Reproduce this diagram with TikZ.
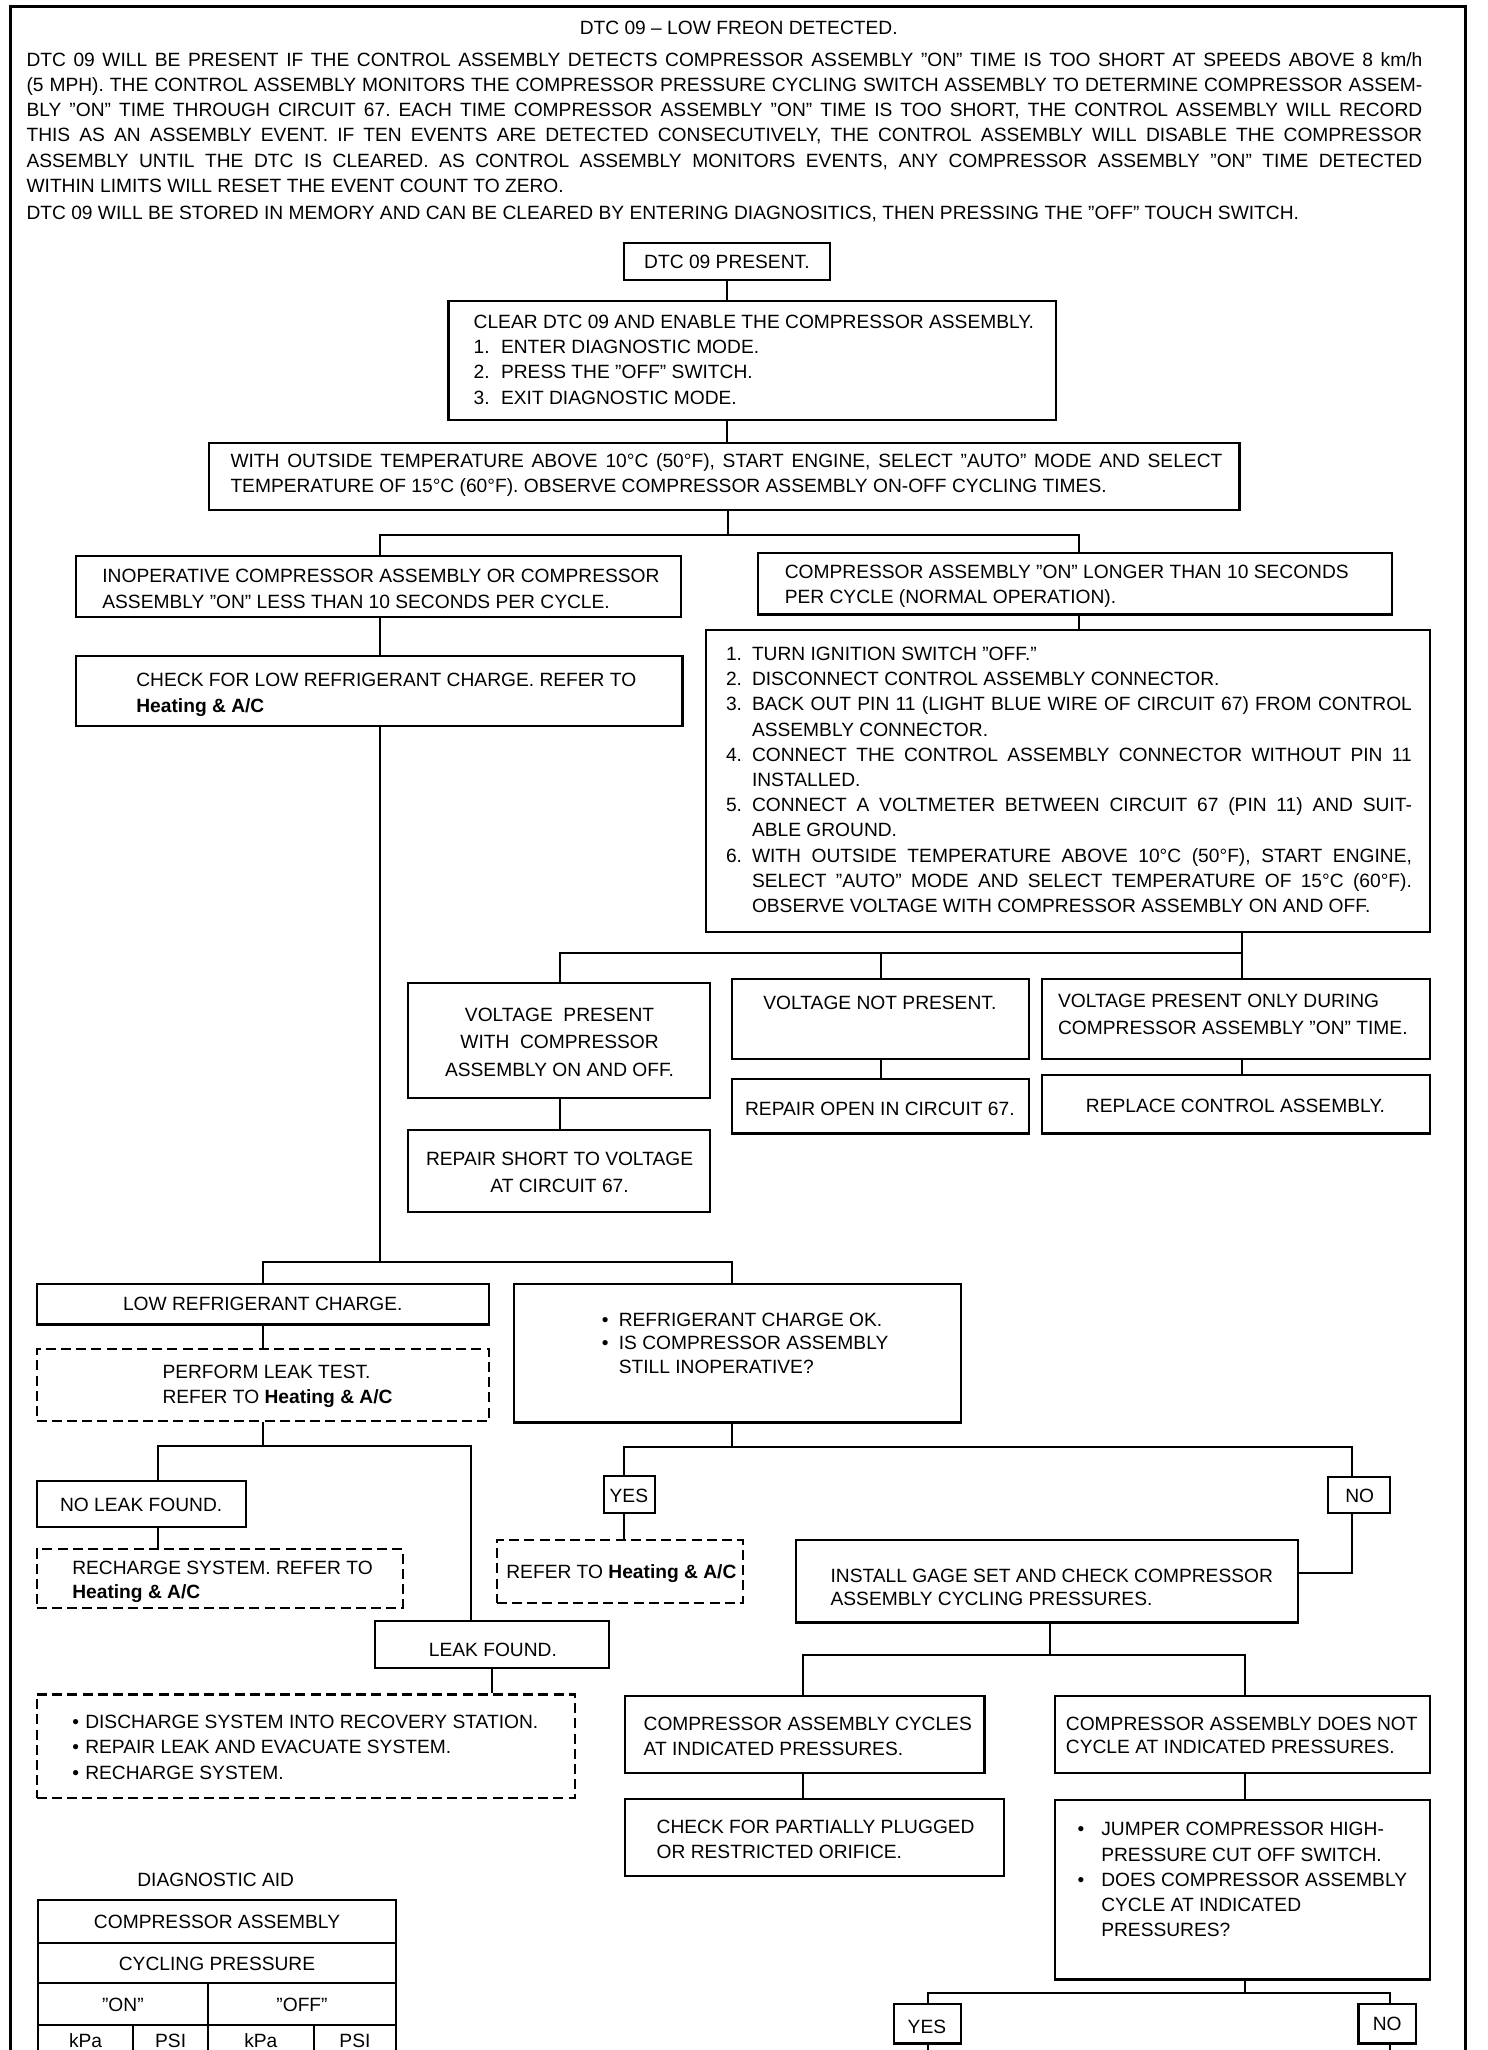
\documentclass[tikz,border=0pt]{standalone}
\usepackage{fontspec}
\setmainfont{Liberation Sans}
\usetikzlibrary{fit}
\newcommand\fsz{\fontsize{9.6}{12.6}\selectfont\frenchspacing}
\newcommand\jline[2]{\makebox[#1][s]{#2}}
\newcommand\numb[2][13pt]{\makebox[#1][l]{#2}}
\newcommand\bull[1][8.5pt]{\makebox[#1][l]{•}}
\begin{document}
\begin{tikzpicture}[x=0.6538pt, y=-0.6538pt,
  bx/.style={draw, line width=1.1pt, inner sep=0pt},
  dbx/.style={bx, dash pattern=on 5pt off 2.6pt},
  tl/.style={inner sep=0pt, anchor=north west, align=left, font=\fsz},
  tc/.style={inner sep=0pt, anchor=north, align=center, font=\fsz},
  ln/.style={line width=1pt},
  tbl/.style={line width=1.1pt}]
\useasboundingbox (0,0) rectangle (1138,1568);
\clip (0,0) rectangle (1138,1568);
% frame
\draw[line width=1.2pt] (8,1600) -- (8,5) -- (1121,5) -- (1121,1600);
% header text
\node[tc] (title) at (565,15.7) {DTC 09 -- LOW FREON DETECTED.};
\node[tl] (para) at (20,39.7) {%
\jline{698pt}{DTC 09 WILL BE PRESENT IF THE CONTROL ASSEMBLY DETECTS COMPRESSOR ASSEMBLY ''ON'' TIME IS TOO SHORT AT SPEEDS ABOVE 8 km/h}\\
\jline{698pt}{(5 MPH). THE CONTROL ASSEMBLY MONITORS THE COMPRESSOR PRESSURE CYCLING SWITCH ASSEMBLY TO DETERMINE COMPRESSOR ASSEM-}\\
\jline{698pt}{BLY ''ON'' TIME THROUGH CIRCUIT 67. EACH TIME COMPRESSOR ASSEMBLY ''ON'' TIME IS TOO SHORT, THE CONTROL ASSEMBLY WILL RECORD}\\
\jline{698pt}{THIS AS AN ASSEMBLY EVENT. IF TEN EVENTS ARE DETECTED CONSECUTIVELY, THE CONTROL ASSEMBLY WILL DISABLE THE COMPRESSOR}\\
\jline{698pt}{ASSEMBLY UNTIL THE DTC IS CLEARED. AS CONTROL ASSEMBLY MONITORS EVENTS, ANY COMPRESSOR ASSEMBLY ''ON'' TIME DETECTED}\\
WITHIN LIMITS WILL RESET THE EVENT COUNT TO ZERO.};
\node[tl] (para2) at (20,157.7) {DTC 09 WILL BE STORED IN MEMORY AND CAN BE CLEARED BY ENTERING DIAGNOSITICS, THEN PRESSING THE ''OFF'' TOUCH SWITCH.};

% boxes
\node[bx, fit={(477,186) (635,214)}] (A) {};
\node[bx, fit={(343,230) (808,321)}] (B) {};
\node[bx, fit={(160,339) (948,390)}] (C) {};
\node[bx, fit={(58,425) (521,472)}] (D) {};
\node[bx, fit={(580,423) (1065,470)}] (E) {};
\node[bx, fit={(58,502) (522,555)}] (F) {};
\node[bx, fit={(540,482) (1094,713)}] (G) {};
\node[bx, fit={(312,752) (543,840)}] (H) {};
\node[bx, fit={(560,749) (787,810)}] (I) {};
\node[bx, fit={(797,749) (1094,810)}] (J) {};
\node[bx, fit={(312,864) (543,927)}] (K) {};
\node[bx, fit={(560,825) (787,867)}] (L) {};
\node[bx, fit={(797,822) (1094,867)}] (M) {};
\node[bx, fit={(28,982) (374,1013)}] (N) {};
\node[bx, fit={(393,982) (735,1088)}] (O) {};
\node[dbx, fit={(28,1032) (374,1087)}] (P) {};
\node[bx, fit={(28,1133) (188,1168)}] (Q) {};
\node[dbx, fit={(28,1185) (308,1230)}] (S) {};
\node[bx, fit={(287,1240) (466,1276)}] (R) {};
\node[dbx, fit={(28,1296) (440,1375)}] (T) {};
\node[bx, fit={(462,1129) (501,1157)}] (Y1) {};
\node[dbx, fit={(380,1178) (568,1226)}] (U) {};
\node[bx, fit={(1016,1130) (1063,1157)}] (N1) {};
\node[bx, fit={(609,1178) (993,1241)}] (V) {};
\node[bx, fit={(478,1297) (753,1356)}] (W) {};
\node[bx, fit={(478,1376) (768,1435)}] (Yb) {};
\node[bx, fit={(807,1297) (1094,1356)}] (X) {};
\node[bx, fit={(807,1377) (1094,1514)}] (Z) {};
\node[bx, fit={(684,1533) (735,1563)}] (Y2) {};
\node[bx, fit={(1039,1533) (1083,1563)}] (N2) {};

% texts
\node[tc] (tA) at (556,194.7) {DTC 09 PRESENT.};
\node[tl] (tB) at (362,240.7) {CLEAR DTC 09 AND ENABLE THE COMPRESSOR ASSEMBLY.\\
\numb[13.7pt]{1.}ENTER DIAGNOSTIC MODE.\\
\numb[13.7pt]{2.}PRESS THE ''OFF'' SWITCH.\\
\numb[13.7pt]{3.}EXIT DIAGNOSTIC MODE.};
\node[tl] (tC) at (176,346.7) {\jline{496pt}{WITH OUTSIDE TEMPERATURE ABOVE 10°C (50°F), START ENGINE, SELECT ''AUTO'' MODE AND SELECT}\\
TEMPERATURE OF 15°C (60°F). OBSERVE COMPRESSOR ASSEMBLY ON-OFF CYCLING TIMES.};
\node[tl] (tD) at (78,434.7) {INOPERATIVE COMPRESSOR ASSEMBLY OR COMPRESSOR\\[0.5pt]
ASSEMBLY ''ON'' LESS THAN 10 SECONDS PER CYCLE.};
\node[tl] (tE) at (600,431.7) {COMPRESSOR ASSEMBLY ''ON'' LONGER THAN 10 SECONDS\\
PER CYCLE (NORMAL OPERATION).};
\node[tl] (tF) at (104,514.7) {CHECK FOR LOW REFRIGERANT CHARGE. REFER TO\\[0.5pt]
\textbf{Heating \& A/C}};
\node[tl] (tG) at (555,494.7) {%
\numb{1.}TURN IGNITION SWITCH ''OFF.''\\
\numb{2.}DISCONNECT CONTROL ASSEMBLY CONNECTOR.\\
\numb{3.}\jline{330pt}{BACK OUT PIN 11 (LIGHT BLUE WIRE OF CIRCUIT 67) FROM CONTROL}\\
\numb{}ASSEMBLY CONNECTOR.\\
\numb{4.}\jline{330pt}{CONNECT THE CONTROL ASSEMBLY CONNECTOR WITHOUT PIN 11}\\
\numb{}INSTALLED.\\
\numb{5.}\jline{330pt}{CONNECT A VOLTMETER BETWEEN CIRCUIT 67 (PIN 11) AND SUIT-}\\
\numb{}ABLE GROUND.\\
\numb{6.}\jline{330pt}{WITH OUTSIDE TEMPERATURE ABOVE 10°C (50°F), START ENGINE,}\\
\numb{}\jline{330pt}{SELECT ''AUTO'' MODE AND SELECT TEMPERATURE OF 15°C (60°F).}\\
\numb{}OBSERVE VOLTAGE WITH COMPRESSOR ASSEMBLY ON AND OFF.};
\node[tc] (tH) at (428,770.7) {VOLTAGE\ \ PRESENT\\[1.1pt]WITH\ \ COMPRESSOR\\[1.1pt]ASSEMBLY ON AND OFF.};
\node[tc] (tI) at (673,761.7) {VOLTAGE NOT PRESENT.};
\node[tl] (tJ) at (809,759.7) {VOLTAGE PRESENT ONLY DURING\\[1.1pt]COMPRESSOR ASSEMBLY ''ON'' TIME.};
\node[tc] (tK) at (428,880.7) {REPAIR SHORT TO VOLTAGE\\[1.1pt]AT CIRCUIT 67.};
\node[tc] (tL) at (673,842.7) {REPAIR OPEN IN CIRCUIT 67.};
\node[tc] (tM) at (945,840.7) {REPLACE CONTROL ASSEMBLY.};
\node[tc] (tN) at (201,991.7) {LOW REFRIGERANT CHARGE.};
\node[tl] (tO) at (460,1003.7) {\bull REFRIGERANT CHARGE OK.\\[-0.8pt]
\bull IS COMPRESSOR ASSEMBLY\\[-0.8pt]
\hspace*{8.5pt}STILL INOPERATIVE?};
\node[tl] (tP) at (124,1043.7) {PERFORM LEAK TEST.\\REFER TO \textbf{Heating \& A/C}};
\node[tc] (tQ) at (108,1145.7) {NO LEAK FOUND.};
\node[tl] (tS) at (55,1193.7) {RECHARGE SYSTEM. REFER TO\\[-0.8pt]\textbf{Heating \& A/C}};
\node[tc] (tR) at (377,1256.7) {LEAK FOUND.};
\node[tl] (tT) at (55,1311.7) {\bull[6.5pt]DISCHARGE SYSTEM INTO RECOVERY STATION.\\
\bull[6.5pt]REPAIR LEAK AND EVACUATE SYSTEM.\\
\bull[6.5pt]RECHARGE SYSTEM.};
\node[tc] (tY1) at (481,1138.7) {YES};
\node[tl] (tU) at (387,1196.7) {REFER TO \textbf{Heating \& A/C}};
\node[tc] (tN1) at (1040,1138.7) {NO};
\node[tl] (tV) at (635,1199.7) {INSTALL GAGE SET AND CHECK COMPRESSOR\\[-0.8pt]ASSEMBLY CYCLING PRESSURES.};
\node[tl] (tW) at (492,1312.7) {COMPRESSOR ASSEMBLY CYCLES\\AT INDICATED PRESSURES.};
\node[tl] (tYb) at (502,1391.7) {CHECK FOR PARTIALLY PLUGGED\\OR RESTRICTED ORIFICE.};
\node[tl] (tX) at (815,1312.7) {COMPRESSOR ASSEMBLY DOES NOT\\[-0.8pt]CYCLE AT INDICATED PRESSURES.};
\node[tl] (tZ) at (824,1393.7) {\bull[11.8pt]JUMPER COMPRESSOR HIGH-\\
\hspace*{11.8pt}PRESSURE CUT OFF SWITCH.\\
\bull[11.8pt]DOES COMPRESSOR ASSEMBLY\\
\hspace*{11.8pt}CYCLE AT INDICATED\\
\hspace*{11.8pt}PRESSURES?};
\node[tc] (tY2) at (709,1544.7) {YES};
\node[tc] (tN2) at (1061,1542.7) {NO};

% junction coordinates
\coordinate (jC) at (557,409);
\coordinate (bCl) at (291,409);
\coordinate (bCr) at (825,409);
\coordinate (bGl) at (428,729);
\coordinate (bGm) at (674,729);
\coordinate (bGr) at (950,729);
\coordinate (jF) at (291,965);
\coordinate (bFl) at (201,965);
\coordinate (bFr) at (560,965);
\coordinate (bPl) at (121,1106);
\coordinate (bPr) at (360,1106);
\coordinate (bOl) at (477,1107);
\coordinate (bOr) at (1034,1107);
\coordinate (jV) at (1034,1203);
\coordinate (bVl) at (614,1266);
\coordinate (bVm) at (803,1266);
\coordinate (bVr) at (952,1266);
\coordinate (bZl) at (710,1524);
\coordinate (bZr) at (1063,1524);
\coordinate (e1) at (710,1600);
\coordinate (e2) at (1063,1600);

% connectors
\draw[ln] (A.south) -- (A.south |- B.north);
\draw[ln] (A.south |- B.south) -- (A.south |- C.north);
\draw[ln] (jC |- C.south) -- (jC);
\draw[ln] (bCl |- D.north) -- (bCl) -- (bCr) -- (bCr |- E.north);
\draw[ln] (bCl |- D.south) -- (bCl |- F.north);
\draw[ln] (bCr |- E.south) -- (bCr |- G.north);
\draw[ln] (bGr |- G.south) -- (bGr);
\draw[ln] (bGl |- H.north) -- (bGl) -- (bGr) -- (bGr |- J.north);
\draw[ln] (bGm) -- (bGm |- I.north);
\draw[ln] (bGl |- H.south) -- (bGl |- K.north);
\draw[ln] (bGm |- I.south) -- (bGm |- L.north);
\draw[ln] (bGr |- J.south) -- (bGr |- M.north);
\draw[ln] (bCl |- F.south) -- (jF);
\draw[ln] (bFl |- N.north) -- (bFl) -- (bFr) -- (bFr |- O.north);
\draw[ln] (bFl |- N.south) -- (bFl |- P.north);
\draw[ln] (bFl |- P.south) -- (bFl |- bPl);
\draw[ln] (bPl |- Q.north) -- (bPl) -- (bPr) -- (bPr |- R.north);
\draw[ln] (bPl |- Q.south) -- (bPl |- S.north);
\draw[ln] (R.south) -- (R.south |- T.north);
\draw[ln] (bFr |- O.south) -- (bFr |- bOl);
\draw[ln] (bOl |- Y1.north) -- (bOl) -- (bOr) -- (bOr |- N1.north);
\draw[ln] (bOl |- Y1.south) -- (bOl |- U.north);
\draw[ln] (bOr |- N1.south) -- (jV) -- (jV -| V.east);
\draw[ln] (bVm |- V.south) -- (bVm);
\draw[ln] (bVl |- W.north) -- (bVl) -- (bVr) -- (bVr |- X.north);
\draw[ln] (bVl |- W.south) -- (bVl |- Yb.north);
\draw[ln] (bVr |- X.south) -- (bVr |- Z.north);
\draw[ln] (bVr |- Z.south) -- (bVr |- bZl);
\draw[ln] (bZl |- Y2.north) -- (bZl) -- (bZr) -- (bZr |- N2.north);
\draw[ln] (bZl |- Y2.south) -- (e1);
\draw[ln] (bZr |- N2.south) -- (e2);

% diagnostic aid table
\node[tc] (diag) at (165,1432.7) {DIAGNOSTIC AID};
\draw[tbl] (29,1600) -- (29,1453) -- (303,1453) -- (303,1600);
\draw[tbl] (29,1486) -- (303,1486);
\draw[tbl] (29,1517) -- (303,1517);
\draw[tbl] (29,1549) -- (303,1549);
\draw[tbl] (159,1517) -- (159,1600);
\draw[tbl] (102,1549) -- (102,1600);
\draw[tbl] (240,1549) -- (240,1600);
\node[tc] (t1) at (166,1464.7) {COMPRESSOR ASSEMBLY};
\node[tc] (t2) at (166,1496.7) {CYCLING PRESSURE};
\node[tc] (t3) at (94,1527.7) {''ON''};
\node[tc] (t4) at (231,1527.7) {''OFF''};
\node[tc] (t5) at (65.5,1555.3) {kPa};
\node[tc] (t6) at (130.5,1555.3) {PSI};
\node[tc] (t7) at (199.5,1555.3) {kPa};
\node[tc] (t8) at (271.5,1555.3) {PSI};
\end{tikzpicture}
\end{document}
